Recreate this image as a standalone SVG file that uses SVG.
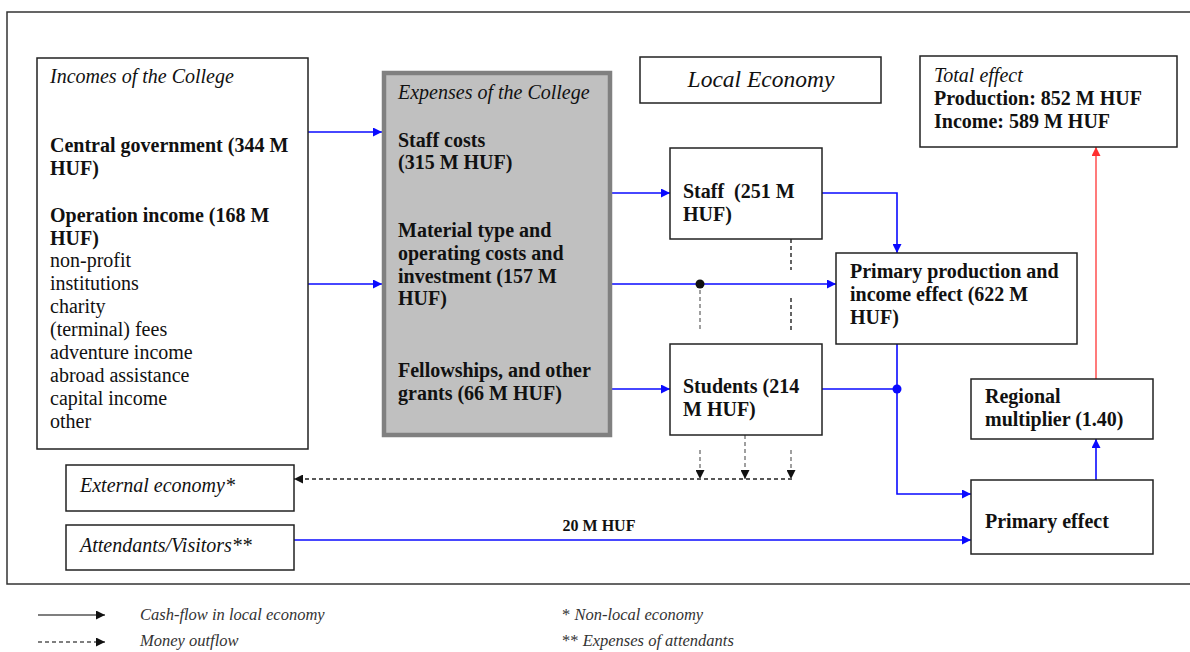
<svg xmlns="http://www.w3.org/2000/svg" width="1190" height="652" viewBox="0 0 1190 652">
  <style>
    .box { fill: #ffffff; stroke: #222; stroke-width: 1.5; }
    .exp { fill: #c0c0c0; stroke: #808080; stroke-width: 4.5; }
    text { font-family: "Liberation Serif", "Times New Roman", serif; fill: #111; }
    .t { font-size: 20px; }
    .b { font-size: 20px; font-weight: bold; }
    .i { font-size: 20px; font-style: italic; }
    .lg { font-size: 16.5px; font-style: italic; fill: #333; }
    .flow { fill: none; stroke: #0a0aff; stroke-width: 1.6; }
    .red { fill: none; stroke: #ff5a5a; stroke-width: 1.6; }
    .out { fill: none; stroke: #222; stroke-width: 1.4; stroke-dasharray: 4 3; }
    .outg { fill: none; stroke: #888; stroke-width: 1.6; stroke-dasharray: 4 3; }
  </style>
  <defs>
    <marker id="ab" viewBox="0 0 10 10" refX="10" refY="5" markerWidth="11" markerHeight="9" markerUnits="userSpaceOnUse" orient="auto">
      <path d="M0,0 L10,5 L0,10 z" fill="#0a0aff"/>
    </marker>
    <marker id="ar" viewBox="0 0 10 10" refX="10" refY="5" markerWidth="11" markerHeight="9" markerUnits="userSpaceOnUse" orient="auto">
      <path d="M0,0 L10,5 L0,10 z" fill="#ff3030"/>
    </marker>
    <marker id="ak" viewBox="0 0 10 10" refX="10" refY="5" markerWidth="10" markerHeight="9" markerUnits="userSpaceOnUse" orient="auto">
      <path d="M0,0 L10,5 L0,10 z" fill="#111"/>
    </marker>
  </defs>

  <!-- outer frame -->
  <rect x="7" y="12" width="1200" height="572" fill="none" stroke="#333" stroke-width="1.5"/>

  <!-- connectors -->
  <g id="connectors">
    <path class="flow" d="M308,132 H382" marker-end="url(#ab)"/>
    <path class="flow" d="M308,284 H382" marker-end="url(#ab)"/>
    <path class="flow" d="M612,193 H670" marker-end="url(#ab)"/>
    <path class="flow" d="M612,284 H836" marker-end="url(#ab)"/>
    <path class="flow" d="M612,389 H670" marker-end="url(#ab)"/>
    <path class="flow" d="M822,193 H897 V253" marker-end="url(#ab)"/>
    <path class="flow" d="M822,389 H897"/>
    <path class="flow" d="M897,344 V494 H971" marker-end="url(#ab)"/>
    <path class="flow" d="M294,540 H971" marker-end="url(#ab)"/>
    <path class="flow" d="M1096,480 V439" marker-end="url(#ab)"/>
    <path class="red" d="M1096,379 V147" marker-end="url(#ar)"/>
    <circle cx="700" cy="284" r="4.5" fill="#111"/>
    <circle cx="897" cy="389" r="4.5" fill="#0a0aff"/>

    <!-- money outflow -->
    <path class="out" d="M791,239 V270"/>
    <path class="out" d="M791,298 V330"/>
    <path class="outg" d="M700,290 V330"/>
    <path class="out" d="M792,479 H294" marker-end="url(#ak)"/>
    <path class="outg" d="M700,450 V479" marker-end="url(#ak)"/>
    <path class="outg" d="M745,435 V479" marker-end="url(#ak)"/>
    <path class="outg" d="M791,450 V479" marker-end="url(#ak)"/>
    <text x="599" y="531" font-size="16" font-weight="bold" text-anchor="middle">20 M HUF</text>
  </g>

  <g id="incomes">
    <rect class="box" x="37" y="58" width="271" height="391"/>
    <text class="i" x="50" y="83">Incomes of the College</text>
    <text class="b" x="50" y="152">Central government (344 M</text>
    <text class="b" x="50" y="175">HUF)</text>
    <text class="b" x="50" y="222">Operation income (168 M</text>
    <text class="b" x="50" y="245">HUF)</text>
    <text class="t" x="50" y="267">non-profit</text>
    <text class="t" x="50" y="290">institutions</text>
    <text class="t" x="50" y="313">charity</text>
    <text class="t" x="50" y="336">(terminal) fees</text>
    <text class="t" x="50" y="359">adventure income</text>
    <text class="t" x="50" y="382">abroad assistance</text>
    <text class="t" x="50" y="405">capital income</text>
    <text class="t" x="50" y="428">other</text>
  </g>

  <g id="expenses">
    <rect class="exp" x="384" y="73" width="226" height="362"/>
    <text class="i" x="398" y="99">Expenses of the College</text>
    <text class="b" x="398" y="147">Staff costs</text>
    <text class="b" x="398" y="169">(315 M HUF)</text>
    <text class="b" x="398" y="237">Material type and</text>
    <text class="b" x="398" y="260">operating costs and</text>
    <text class="b" x="398" y="283">investment (157 M</text>
    <text class="b" x="398" y="305">HUF)</text>
    <text class="b" x="398" y="377">Fellowships, and other</text>
    <text class="b" x="398" y="400">grants (66 M HUF)</text>
  </g>

  <g id="local-economy">
    <rect class="box" x="640" y="57" width="241" height="46"/>
    <text x="761" y="87" font-size="23.5" font-style="italic" text-anchor="middle">Local Economy</text>
  </g>

  <g id="total-effect">
    <rect class="box" x="920" y="56" width="257" height="91"/>
    <text class="i" x="934" y="82">Total effect</text>
    <text class="b" x="934" y="105">Production: 852 M HUF</text>
    <text class="b" x="934" y="128">Income: 589 M HUF</text>
  </g>

  <g id="staff">
    <rect class="box" x="670" y="148" width="152" height="91"/>
    <text class="b" x="683" y="198">Staff&#160; (251 M</text>
    <text class="b" x="683" y="221">HUF)</text>
  </g>

  <g id="students">
    <rect class="box" x="670" y="344" width="152" height="91"/>
    <text class="b" x="683" y="393">Students (214</text>
    <text class="b" x="683" y="416">M HUF)</text>
  </g>

  <g id="primary-production">
    <rect class="box" x="836" y="253" width="241" height="91"/>
    <text class="b" x="850" y="278">Primary production and</text>
    <text class="b" x="850" y="301">income effect (622 M</text>
    <text class="b" x="850" y="324">HUF)</text>
  </g>

  <g id="regional-multiplier">
    <rect class="box" x="971" y="379" width="182" height="60"/>
    <text class="b" x="985" y="403">Regional</text>
    <text class="b" x="985" y="426">multiplier (1.40)</text>
  </g>

  <g id="primary-effect">
    <rect class="box" x="971" y="480" width="182" height="74"/>
    <text class="b" x="985" y="528">Primary effect</text>
  </g>

  <g id="external-economy">
    <rect class="box" x="66" y="465" width="228" height="46"/>
    <text class="i" x="80" y="492">External economy*</text>
  </g>

  <g id="attendants">
    <rect class="box" x="66" y="525" width="228" height="45"/>
    <text class="i" x="80" y="552">Attendants/Visitors**</text>
  </g>

  <!-- legend -->
  <g id="legend">
    <path d="M38,615 H105" stroke="#555" stroke-width="1.4" fill="none" marker-end="url(#ak)"/>
    <text class="lg" x="140" y="620">Cash-flow in local economy</text>
    <path d="M38,642 H105" stroke="#555" stroke-width="1.4" stroke-dasharray="4 3" fill="none" marker-end="url(#ak)"/>
    <text class="lg" x="140" y="646">Money outflow</text>
    <text class="lg" x="562" y="620"><tspan font-style="normal">* </tspan>Non-local economy</text>
    <text class="lg" x="562" y="646"><tspan font-style="normal">** </tspan>Expenses of attendants</text>
  </g>
</svg>
